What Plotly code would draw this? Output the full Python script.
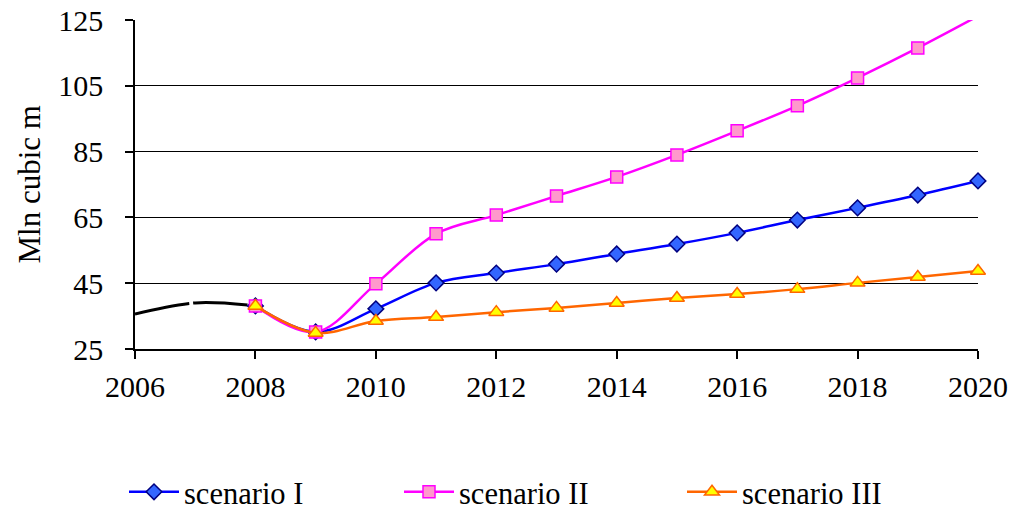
import plotly.graph_objects as go

# Historical volume and three forecast scenarios (Mln cubic m)
hist_years = [2006, 2007, 2008]
hist_values = [35.6, 39.0, 38.1]

years = list(range(2008, 2021))
scenario_1 = [38.1, 30.2, 37.2, 45.1, 48.1, 50.8, 53.9, 56.9, 60.3, 64.2, 67.9, 71.8, 76.1]
scenario_2 = [38.1, 30.2, 44.8, 60.0, 65.7, 71.5, 77.3, 84.0, 91.3, 98.9, 107.4, 116.5, 126.2]
scenario_3 = [38.1, 29.9, 33.5, 34.7, 36.2, 37.5, 39.0, 40.5, 41.7, 43.2, 45.1, 46.9, 48.7]

x_ticks = list(range(2006, 2021, 2))
y_ticks = [25, 45, 65, 85, 105, 125]

FONT = "Liberation Serif, Times New Roman, serif"
W, H = 1016, 510
L, R, T, B = 135, 38, 20, 161

fig = go.Figure()

fig.add_trace(go.Scatter(
    x=hist_years, y=hist_values, mode="lines", showlegend=False,
    line=dict(color="black", width=3, shape="spline", dash="55px,4px"),
    hoverinfo="skip", cliponaxis=False,
))

fig.add_trace(go.Scatter(
    x=years, y=scenario_1, mode="lines+markers", name="scenario I",
    legend="legend",
    line=dict(color="#0000FF", width=2.5, shape="spline"),
    marker=dict(symbol="diamond", size=12, color="#3366FF",
                line=dict(color="#000080", width=1.5)),
    cliponaxis=False,
))
fig.add_trace(go.Scatter(
    x=years, y=scenario_2, mode="lines+markers", name="scenario II",
    legend="legend2",
    line=dict(color="#FF00FF", width=2.5, shape="spline"),
    marker=dict(symbol="square", size=12, color="#FF99CC",
                line=dict(color="#FF00FF", width=1.5)),
    cliponaxis=False,
))
fig.add_trace(go.Scatter(
    x=years, y=scenario_3, mode="lines+markers", name="scenario III",
    legend="legend3",
    line=dict(color="#FF6600", width=2.5, shape="spline"),
    marker=dict(symbol="triangle-up", size=13, color="#FFFF00",
                line=dict(color="#FF6600", width=1.5)),
    cliponaxis=False,
))


def legend_at(px_left):
    return dict(
        xref="container", yref="container",
        x=px_left / W, xanchor="left",
        y=1 - 492 / H, yanchor="middle",
        font=dict(family=FONT, size=30.5), itemwidth=50,
        bgcolor="rgba(0,0,0,0)", borderwidth=0,
    )


# Rotated axis title placed to the left of the tick labels
plot_w = W - L - R
fig.add_annotation(
    text="Mln cubic m", textangle=-90,
    xref="paper", yref="paper", x=(29 - L) / plot_w, y=0.5,
    xanchor="center", yanchor="middle", showarrow=False,
    font=dict(family=FONT, size=31, color="black"),
)

fig.update_layout(
    width=W, height=H,
    margin=dict(l=L, r=R, t=T, b=B, autoexpand=False),
    paper_bgcolor="white", plot_bgcolor="white",
    font=dict(family=FONT, size=30, color="black"),
    legend=legend_at(124),
    legend2=legend_at(399),
    legend3=legend_at(682),
    xaxis=dict(
        range=[2006, 2020], tickvals=x_ticks, showgrid=False,
        showline=True, linecolor="black", linewidth=1.5,
        ticks="outside", ticklen=8, tickcolor="black", tickwidth=1.5,
        zeroline=False, tickfont=dict(size=30), ticklabelstandoff=2,
        automargin=False,
    ),
    yaxis=dict(
        range=[25, 125], tickvals=y_ticks,
        showgrid=True, gridcolor="black", gridwidth=1,
        showline=True, linecolor="black", linewidth=1.5,
        ticks="outside", ticklen=8, tickcolor="black", tickwidth=1.5,
        zeroline=False, tickfont=dict(size=30), ticklabelstandoff=16,
        automargin=False,
    ),
)

fig.write_html("out.html")
